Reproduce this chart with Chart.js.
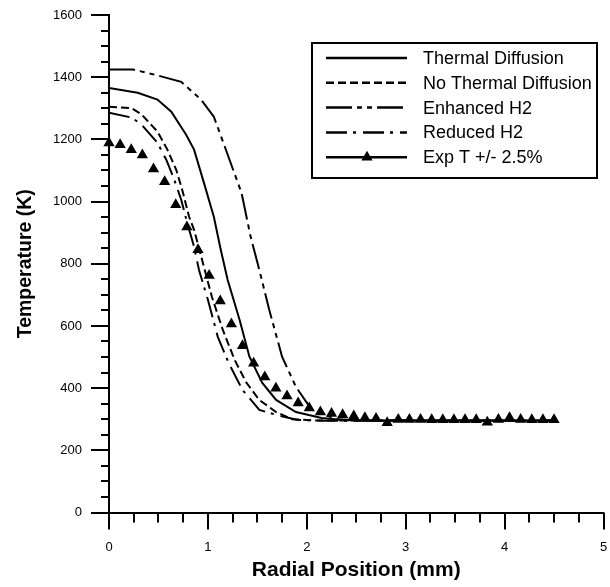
<!DOCTYPE html>
<html>
<head>
<meta charset="utf-8" />
<style>
  html, body { margin: 0; padding: 0; background: #fff; }
</style>
</head>
<body>
<canvas id="chart" width="610" height="587"></canvas>

<script src="https://cdn.jsdelivr.net/npm/chart.js"></script>
<script>
  // values (radial position in mm, temperature in K)
  const thermalX = [0, 0.29, 0.49, 0.63, 0.78, 0.86, 0.96, 1.06, 1.13, 1.20, 1.32, 1.42, 1.55, 1.69, 1.89, 2.15, 2.4, 3.0, 4.5];
  const thermalT = [1365, 1350, 1328, 1289, 1215, 1167, 1060, 951, 845, 748, 620, 501, 417, 362, 323, 304, 297, 296, 296];

  const noThermalX = [0, 0.23, 0.33, 0.49, 0.59, 0.68, 0.74, 0.81, 0.86, 0.96, 1.04, 1.15, 1.27, 1.39, 1.52, 1.69, 1.85, 2.1, 4.5];
  const noThermalT = [1305, 1300, 1280, 1225, 1167, 1102, 1038, 951, 909, 790, 694, 588, 491, 417, 362, 323, 300, 296, 296];

  const enhancedX = [0, 0.24, 0.5, 0.73, 0.93, 1.06, 1.17, 1.34, 1.43, 1.52, 1.62, 1.75, 1.89, 2.05, 2.3, 2.6, 4.5];
  const enhancedT = [1425, 1425, 1405, 1385, 1328, 1273, 1177, 1028, 890, 780, 652, 501, 404, 330, 300, 296, 296];

  const reducedX = [0, 0.23, 0.33, 0.49, 0.58, 0.66, 0.73, 0.79, 0.86, 0.91, 1.0, 1.10, 1.21, 1.35, 1.52, 1.69, 1.9, 2.2, 4.5];
  const reducedT = [1286, 1270, 1247, 1189, 1134, 1070, 1006, 932, 855, 780, 684, 565, 481, 394, 330, 314, 298, 295, 295];

  const expX = [0, 0.1125, 0.225, 0.3375, 0.45, 0.5625, 0.675, 0.7875, 0.9, 1.0125,
                1.125, 1.2375, 1.35, 1.4625, 1.575, 1.6875, 1.8, 1.9125, 2.025, 2.1375,
                2.25, 2.3625, 2.475, 2.5875, 2.7, 2.8125, 2.925, 3.0375, 3.15, 3.2625,
                3.375, 3.4875, 3.6, 3.7125, 3.825, 3.9375, 4.05, 4.1625, 4.275, 4.3875, 4.5];
  const expT = [1188, 1183, 1167, 1150, 1105, 1064, 990, 918, 845, 762,
                680, 606, 536, 480, 436, 400, 375, 352, 336, 323,
                318, 314, 310, 305, 302, 289, 299, 299, 299, 298,
                298, 298, 298, 298, 290, 299, 305, 299, 298, 298, 298];

  const xTicks = [0, 1, 2, 3, 4, 5];
  const yTicks = [0, 200, 400, 600, 800, 1000, 1200, 1400, 1600];

  const FONT = "'Liberation Sans', Arial, sans-serif";

  function pts(xs, ys) {
    return xs.map((x, i) => ({ x: x, y: ys[i] }));
  }

  function lineSet(label, xs, ys, dash) {
    return {
      label: label,
      data: pts(xs, ys),
      showLine: true,
      borderColor: '#000',
      backgroundColor: '#000',
      borderWidth: 2,
      borderDash: dash,
      pointRadius: 0,
      tension: 0
    };
  }

  // keep the tick labels from pulling the plot area in
  function noLabelPadding(s) {
    s.paddingLeft = s.paddingRight = s.paddingTop = s.paddingBottom = 0;
    if (s._margins) {
      s._margins.left = s._margins.right = s._margins.top = s._margins.bottom = 0;
    }
  }

  // tick marks (major + minor) and the boxed legend
  const decorations = {
    id: 'decorations',
    afterDraw(chart) {
      const ctx = chart.ctx;
      const a = chart.chartArea;
      const xs = chart.scales.x, ys = chart.scales.y;
      ctx.save();
      ctx.strokeStyle = '#000';
      ctx.lineWidth = 2;
      ctx.setLineDash([]);
      ctx.beginPath();
      for (let i = 0; i <= 20; i++) {
        const v = i * 0.25;
        const px = Math.round(xs.getPixelForValue(v));
        ctx.moveTo(px, a.bottom);
        ctx.lineTo(px, a.bottom + (i % 4 === 0 ? 17 : 10));
      }
      for (let i = 0; i <= 32; i++) {
        const v = i * 50;
        const py = Math.round(ys.getPixelForValue(v));
        ctx.moveTo(a.left, py);
        ctx.lineTo(a.left - (i % 4 === 0 ? 18 : 8), py);
      }
      ctx.stroke();

      // legend
      const bx = 312, by = 43, bw = 285, bh = 135;
      ctx.fillStyle = '#fff';
      ctx.fillRect(bx, by, bw, bh);
      ctx.strokeRect(bx, by, bw, bh);
      ctx.font = '18px ' + FONT;
      ctx.textBaseline = 'middle';
      ctx.textAlign = 'left';
      chart.data.datasets.forEach((ds, i) => {
        const yy = 58 + i * 24.8;
        ctx.beginPath();
        ctx.setLineDash(ds.borderDash || []);
        ctx.lineWidth = 2.5;
        ctx.moveTo(326, yy);
        ctx.lineTo(407, yy);
        ctx.stroke();
        ctx.setLineDash([]);
        if (ds.pointStyle === 'triangle') {
          const r = 6.5, cx = 367;
          ctx.fillStyle = '#000';
          ctx.beginPath();
          ctx.moveTo(cx, yy - r);
          ctx.lineTo(cx + r * 0.866, yy + r * 0.5);
          ctx.lineTo(cx - r * 0.866, yy + r * 0.5);
          ctx.closePath();
          ctx.fill();
        }
        ctx.fillStyle = '#000';
        ctx.fillText(ds.label, 423, yy + 1);
      });
      ctx.restore();
    }
  };

  new Chart(document.getElementById('chart'), {
    type: 'scatter',
    data: {
      datasets: [
        lineSet('Thermal Diffusion', thermalX, thermalT, []),
        lineSet('No Thermal Diffusion', noThermalX, noThermalT, [8, 4]),
        lineSet('Enhanced H2', enhancedX, enhancedT, [26, 5, 5, 5, 5, 5]),
        lineSet('Reduced H2', reducedX, reducedT, [21, 6, 3, 7]),
        {
          label: 'Exp T +/- 2.5%',
          data: pts(expX, expT),
          showLine: false,
          pointStyle: 'triangle',
          pointRadius: 6.5,
          backgroundColor: '#000',
          borderColor: '#000',
          borderWidth: 0,
          borderDash: [],
          clip: false
        }
      ]
    },
    options: {
      responsive: false,
      animation: false,
      layout: { padding: { top: 15, right: 3, left: 0, bottom: 0 } },
      plugins: {
        legend: { display: false },
        tooltip: { enabled: false }
      },
      scales: {
        x: {
          type: 'linear',
          min: 0,
          max: 5,
          afterBuildTicks: s => { s.ticks = xTicks.map(v => ({ value: v })); },
          afterFit: s => { s.height = 74.5; noLabelPadding(s); },
          grid: { display: false, drawTicks: false },
          border: { display: true, color: '#000', width: 2 },
          ticks: { padding: 27, color: '#000', font: { family: FONT, size: 13 }, maxRotation: 0, callback: v => String(v) },
          title: {
            display: true,
            text: 'Radial Position (mm)',
            color: '#000',
            font: { family: FONT, size: 21, weight: 'bold' },
            padding: { top: 0, bottom: 4 }
          }
        },
        y: {
          type: 'linear',
          min: 0,
          max: 1600,
          afterBuildTicks: s => { s.ticks = yTicks.map(v => ({ value: v })); },
          afterFit: s => { s.width = 109; noLabelPadding(s); },
          grid: { display: false, drawTicks: false },
          border: { display: true, color: '#000', width: 2 },
          ticks: { padding: 27, color: '#000', font: { family: FONT, size: 13 }, callback: v => String(v) },
          title: {
            display: true,
            text: 'Temperature (K)',
            color: '#000',
            font: { family: FONT, size: 19.5, weight: 'bold' },
            padding: { top: 14, bottom: 0 }
          }
        }
      }
    },
    plugins: [decorations]
  });
</script>
</body>
</html>
